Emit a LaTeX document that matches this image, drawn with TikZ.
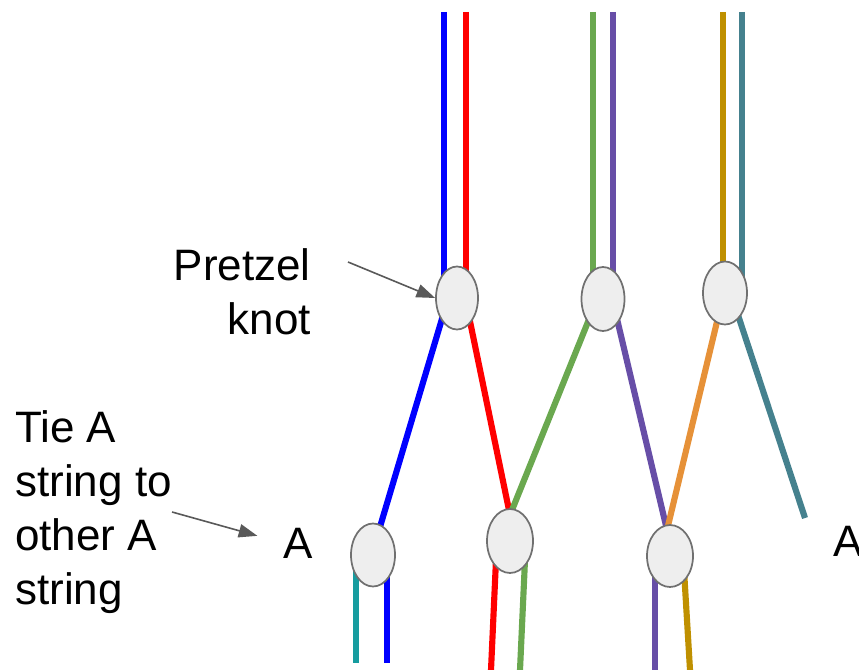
\documentclass[tikz,border=0pt]{standalone}
\usepackage{fontspec}
\setmainfont{Liberation Sans}
\usetikzlibrary{arrows.meta,backgrounds,shapes.geometric}
\definecolor{cblue}{HTML}{0000FF}
\definecolor{cred}{HTML}{FF0000}
\definecolor{cgreen}{HTML}{6AA84F}
\definecolor{cpurple}{HTML}{674EA7}
\definecolor{cgold}{HTML}{BF9000}
\definecolor{cteal}{HTML}{45818E}
\definecolor{corange}{HTML}{E69138}
\definecolor{ccyan}{HTML}{169C9F}
\definecolor{knotfill}{HTML}{EEEEEE}
\definecolor{knotline}{HTML}{707070}
\definecolor{arrowgray}{HTML}{595959}
\tikzset{
  knot/.style={ellipse, draw=knotline, line width=1.3pt, fill=knotfill,
    minimum width=33pt, minimum height=47.25pt, inner sep=0pt},
  strand/.style={line width=4.6pt},
  lbl/.style={font=\fontsize{33}{40.5}\selectfont, inner sep=0pt},
  pointer/.style={draw=arrowgray, line width=1.2pt,
    -{Triangle[length=14pt,width=10pt]}, fill=arrowgray}
}
\begin{document}
\begin{tikzpicture}[x=0.75pt,y=-0.75pt]
\useasboundingbox (0,0) rectangle (859,670);
% knots
\node[knot, minimum width=31.5pt, minimum height=47.25pt] (k1) at (457,298) {};
\node[knot, minimum width=32.25pt, minimum height=48pt] (k2) at (603,299) {};
\node[knot, minimum width=33pt, minimum height=47.25pt] (k3) at (725,293) {};
\node[knot, minimum width=33pt, minimum height=47.25pt] (a1) at (373,555) {};
\node[knot, minimum width=34.5pt, minimum height=48pt] (a2) at (510,541) {};
\node[knot, minimum width=34.5pt, minimum height=46.5pt] (a3) at (670,556) {};
% free ends
\coordinate (tb) at (444,12);
\coordinate (tr) at (466,12);
\coordinate (tg) at (593,12);
\coordinate (tp) at (613,12);
\coordinate (ty) at (723,12);
\coordinate (tt) at (742,12);
\coordinate (te) at (805,518);
\coordinate (b1) at (356,663);
\coordinate (b2) at (387,663);
\coordinate (b3) at (491,670);
\coordinate (b4) at (520,670);
\coordinate (b5) at (655,670);
\coordinate (b6) at (690,670);
\begin{scope}[on background layer]
  % top strands
  \draw[strand, cblue] (tb) -- (444,290);
  \draw[strand, cred] (tr) -- (466,290);
  \draw[strand, cgreen] (tg) -- (593,290);
  \draw[strand, cpurple] (tp) -- (613,290);
  \draw[strand, cgold] (ty) -- (723,285);
  \draw[strand, cteal] (tt) -- (742,285);
  % middle strands
  \draw[strand, cblue] (447,302) -- (374,547);
  \draw[strand, cred] (466,302) -- (510,515);
  \draw[strand, cgreen] (596,302) -- (510,515);
  \draw[strand, cpurple] (613,302) -- (667,530);
  \draw[strand, corange] (721,305) -- (667,530);
  \draw[strand, cteal] (733,300) -- (te);
  % bottom strands
  \draw[strand, ccyan] (356,570) -- (b1);
  \draw[strand, cblue] (387,570) -- (b2);
  \draw[strand, cred] (496,560) -- (b3);
  \draw[strand, cgreen] (525,560) -- (b4);
  \draw[strand, cpurple] (655,570) -- (b5);
  \draw[strand, cgold] (684,570) -- (b6);
\end{scope}
% labels
\node[lbl, align=right, anchor=east] (pk) at (311,292) {Pretzel\\knot};
\node[lbl, align=left, anchor=west] (tie) at (15,512) {Tie A\\string to\\other A\\string};
\node[lbl] (aL) at (298,543) {A};
\node[lbl] (aR) at (848,541) {A};
% pointers
\coordinate (pks) at (348,262);
\draw[pointer] (pks) -- (k1.west);
\draw[pointer, shorten >=20] (tie.east) -- (aL.west);
\end{tikzpicture}
\end{document}
